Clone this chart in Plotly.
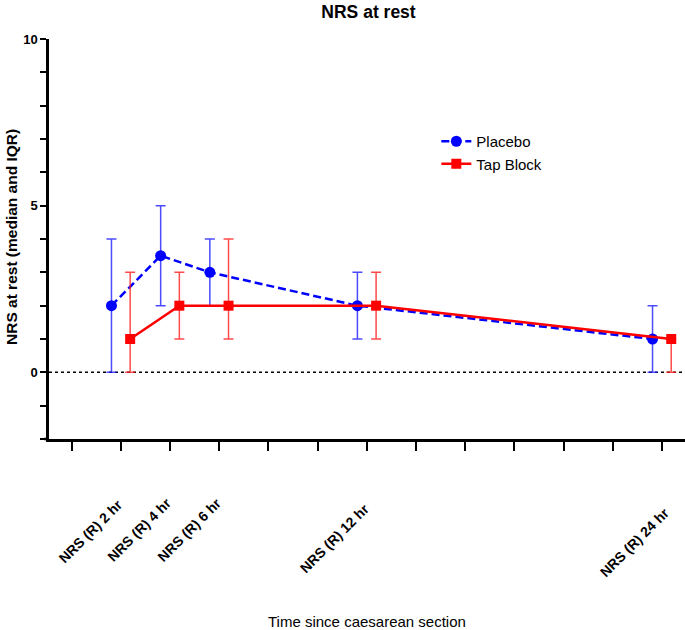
import plotly.graph_objects as go

times = [2, 4, 6, 12, 24]
tick_vals = [0, 2, 4, 6, 8, 10, 12, 14, 16, 18, 20, 22, 24]
label_times = [2, 4, 6, 12, 24]
label_text = ["NRS (R) 2 hr", "NRS (R) 4 hr", "NRS (R) 6 hr", "NRS (R) 12 hr", "NRS (R) 24 hr"]
label_drop = [92, 91, 91, 99, 103]   # px below x axis (label centre)
label_left = [30, 31, 30, 32, 27]     # px left of tick (label centre)

placebo_median = [2, 3.5, 3, 2, 1]
placebo_q1 = [0, 2, 2, 1, 0]
placebo_q3 = [4, 5, 4, 3, 2]

tap_median = [1, 2, 2, 2, 1]
tap_q1 = [0, 1, 1, 1, 0]
tap_q3 = [3, 3, 4, 3, 1]

y_ticks = list(range(-2, 11))
y_labels = ["" if v not in (0, 5, 10) else str(v) for v in y_ticks]

offset = 0.38
FONT = "Arial, Liberation Sans, sans-serif"

fig = go.Figure()

fig.add_trace(go.Scatter(
    x=[t - offset for t in times], y=placebo_median, name="Placebo",
    mode="lines+markers", cliponaxis=False,
    line=dict(color="#0000ff", width=2.5, dash="8px,4px"),
    marker=dict(symbol="circle", size=11, color="#0000ff"),
    error_y=dict(type="data", symmetric=False,
                 array=[q - m for q, m in zip(placebo_q3, placebo_median)],
                 arrayminus=[m - q for q, m in zip(placebo_q1, placebo_median)],
                 color="rgba(30,30,255,0.8)", thickness=1.5, width=5),
))
fig.add_trace(go.Scatter(
    x=[t + offset for t in times], y=tap_median, name="Tap Block",
    mode="lines+markers", cliponaxis=False,
    line=dict(color="#ff0000", width=2.5),
    marker=dict(symbol="square", size=10, color="#ff0000"),
    error_y=dict(type="data", symmetric=False,
                 array=[q - m for q, m in zip(tap_q3, tap_median)],
                 arrayminus=[m - q for q, m in zip(tap_q1, tap_median)],
                 color="rgba(255,30,30,0.8)", thickness=1.5, width=5),
))

fig.add_shape(type="line", xref="paper", x0=0, x1=1, yref="y", y0=0, y1=0,
              line=dict(color="black", width=1.5, dash="dot"), layer="below")
# short stub of the x axis line extending left of the y axis
fig.add_shape(type="line", xref="paper", x0=-0.008, x1=0, yref="paper", y0=0, y1=0,
              line=dict(color="black", width=2.5), layer="above")

annotations = []
for t, txt, d, l in zip(label_times, label_text, label_drop, label_left):
    annotations.append(dict(
        x=t, xref="x", y=0, yref="paper", xshift=-l, yshift=-d,
        text="<b>" + txt + "</b>", textangle=-45, showarrow=False,
        xanchor="center", yanchor="middle", font=dict(size=14, family=FONT, color="black"),
    ))
annotations.append(dict(
    x=0, xref="paper", y=0.5, yref="paper", xshift=-38, yshift=2,
    text="<b>NRS at rest (median and IQR)</b>", textangle=-90, showarrow=False,
    xanchor="center", yanchor="middle", font=dict(size=15.5, family=FONT, color="black"),
))
annotations.append(dict(
    x=0.5, xref="paper", y=0, yref="paper", yshift=-182,
    text="Time since caesarean section", showarrow=False,
    xanchor="center", yanchor="middle", font=dict(size=15, family=FONT, color="black"),
))

fig.update_layout(
    width=685, height=630,
    margin=dict(l=49, r=0, t=39, b=191, autoexpand=False),
    paper_bgcolor="white", plot_bgcolor="white",
    font=dict(family=FONT, color="black"),
    title=dict(text="<b>NRS at rest</b>", x=0.538, xanchor="center", xref="container",
               y=0.981, yanchor="middle", yref="container",
               font=dict(size=17.5, family=FONT)),
    showlegend=True,
    legend=dict(x=0.609, y=0.785, xanchor="left", yanchor="top",
                font=dict(size=15, family=FONT), bgcolor="rgba(0,0,0,0)",
                itemwidth=30, tracegroupgap=0),
    annotations=annotations,
    xaxis=dict(
        range=[-0.92, 24.94], tickvals=tick_vals, ticktext=[""] * len(tick_vals),
        ticks="outside", ticklen=9, tickwidth=2.2, tickcolor="black",
        showline=True, linecolor="black", linewidth=2.5, showgrid=False, zeroline=False,
        automargin=False,
    ),
    yaxis=dict(
        range=[-2, 10], tickvals=y_ticks, ticktext=y_labels,
        ticks="outside", ticklen=6, tickwidth=2.2, tickcolor="black",
        showline=True, linecolor="black", linewidth=2.5, showgrid=False, zeroline=False,
        tickfont=dict(size=13, family=FONT, weight="bold"),
        automargin=False,
    ),
)

fig.write_html("out.html", config={"displayModeBar": False},
               post_script="document.body.style.margin='0px';")
